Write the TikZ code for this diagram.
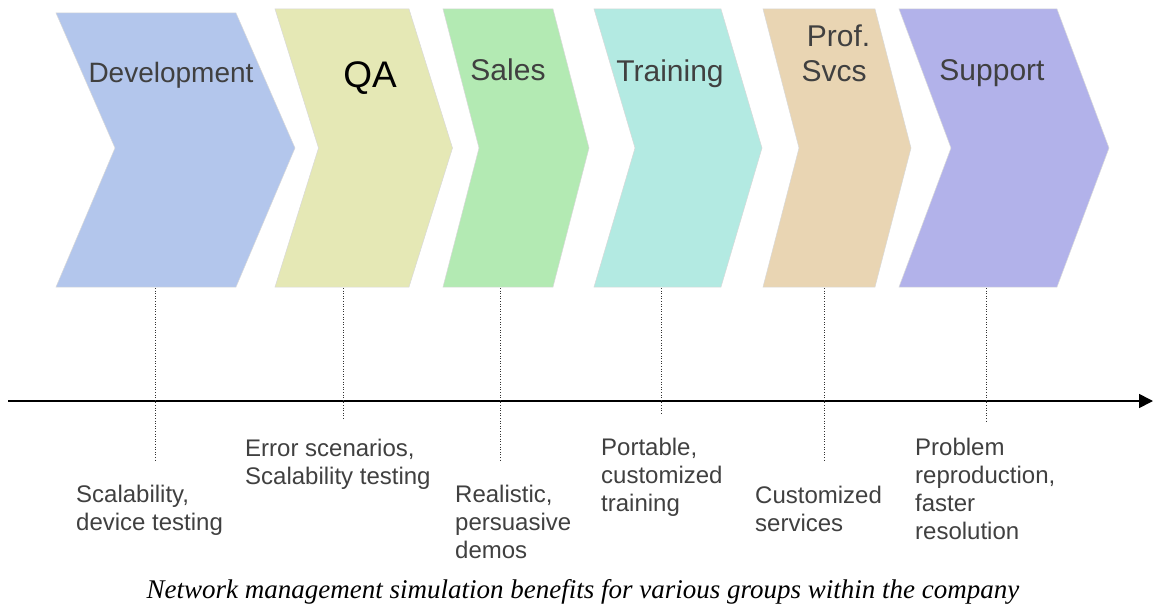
\documentclass[tikz,border=0pt]{standalone}
\usepackage{fontspec}
\setsansfont{Liberation Sans}
\newfontfamily\captionserif{Liberation Serif}
\usepackage{tikz}
\usetikzlibrary{arrows.meta,calc,positioning}
\definecolor{devblue}{HTML}{B3C6EC}
\definecolor{qaolive}{HTML}{E5E8B5}
\definecolor{salesgreen}{HTML}{B3EAB3}
\definecolor{traincyan}{HTML}{B3EAE2}
\definecolor{proftan}{HTML}{E9D5B3}
\definecolor{suppviolet}{HTML}{B2B2EA}
\definecolor{inkgray}{HTML}{404040}
\tikzset{every picture/.style={
  >={Triangle[length=14pt,width=14pt]}   % Solid arrow for the time line.
  }
}

\begin{document}
\begin{tikzpicture}[x=1pt,y=-1pt,
        stage/.style={draw=black!15,line width=0.5pt},
        stagetitle/.style={
          anchor=base,
          inner sep=0pt,
          text=inkgray,
          align=center,
          font=\sffamily\fontsize{#1}{35}\selectfont,
        },
        stagetitle/.default=30,
        benefit/.style={
          anchor=base west,         % base of the last line
          inner sep=0pt,
          align=left,
          text=inkgray,
          font=\sffamily\fontsize{24}{27.7}\selectfont,
        },
        tick/.style={dotted,line width=0.6pt,black!80},
        timeline/.style={->,line width=1.6pt},
      ]
      \useasboundingbox (0,0) rectangle (1154,607);
      % chevrons: left x / right x / slant / top y / colour / name / tick x / tick end
      \foreach \x/\r/\d/\t/\c/\n/\k/\e in {
          56/236/59/13/devblue/dev/155/460,
          275/409/43.5/9/qaolive/qa/343/420,
          443/553/36/9/salesgreen/sales/500/462,
          594/721/41/9/traincyan/train/661/415,
          763/875/36/9/proftan/prof/824/462,
          899/1057/52/9/suppviolet/supp/986/421} {
        \path[stage,fill=\c] (\x,\t) -- (\r,\t) -- (\r+\d,148) -- (\r,287)
          -- (\x,287) -- (\x+\d,148) -- cycle;
        \coordinate (\n top) at (\k,288);
        \coordinate (\n end) at (\k,\e);
      }
      \node[stagetitle=28] (devtitle) at (171,83) {Development};
      \node[stagetitle=37,text=black] (qatitle) at (370,88) {QA};
      \node[stagetitle] (salestitle) at (508,81) {Sales};
      \node[stagetitle] (traintitle) at (670,82) {Training};
      \node[stagetitle] (proftitle) at (834,82) {\hspace*{9pt}Prof.\\Svcs};
      \node[stagetitle] (supptitle) at (992,81) {Support};

      % time line with the dotted ticks
      \coordinate (start) at (8,401);
      \coordinate (stop) at (1153,401);
      \draw[timeline] (start) -- (stop);
      \foreach \n in {dev,qa,sales,train,prof,supp}
        \draw[tick] (\n top) -- (\n end);

      \node[benefit] (devnote) at (76,530) {Scalability,\\device testing};
      \node[benefit] (qanote) at (245,484) {Error scenarios,\\Scalability testing};
      \node[benefit] (salesnote) at (455,558) {Realistic,\\persuasive\\demos};
      \node[benefit] (trainnote) at (601,511) {Portable,\\customized\\training};
      \node[benefit] (profnote) at (755,531) {Customized\\services};
      \node[benefit] (suppnote) at (915,539) {Problem\\reproduction,\\faster\\resolution};

      \node[anchor=base,inner sep=0pt,font=\captionserif\itshape\fontsize{27}{30}\selectfont]
        (caption) at (583,598) {Network management simulation benefits for various groups within the company};
      \end{tikzpicture}
\end{document}
